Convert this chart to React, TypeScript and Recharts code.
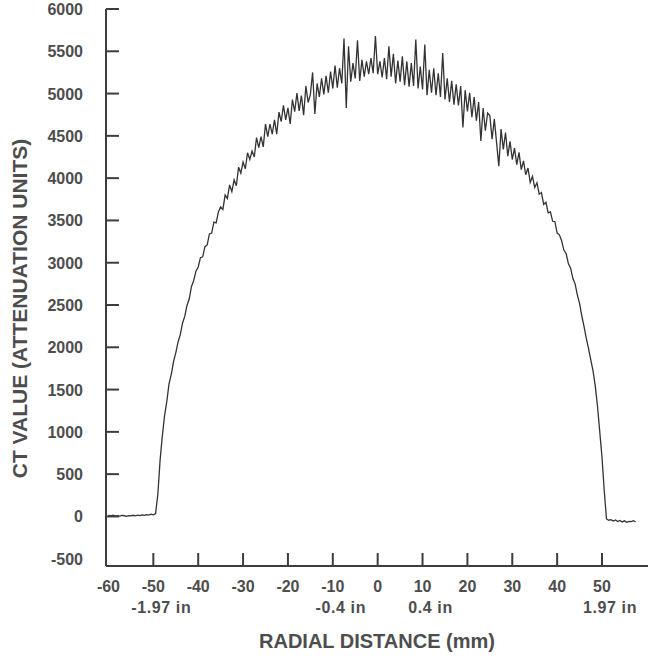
import { LineChart, Line, XAxis, YAxis, Label } from 'recharts';

// CT profile across the phantom: [radial distance mm, CT value]
const leftBaseline: [number, number][] = [
  [-60, 12], [-59.5, 8], [-59, 14], [-58.5, 6], [-58, 10], [-57.5, 4], [-57, 12], [-56.5, 8],
  [-56, 2], [-55.5, 10], [-55, 6], [-54.5, 14], [-54, 8], [-53.5, 16], [-53, 10], [-52.5, 18],
  [-52, 12], [-51.5, 22], [-51, 16], [-50.5, 28], [-50, 20], [-49.5, 34],
];

const leftRise: [number, number][] = [
  [-49, 260], [-48.5, 660], [-48, 950], [-47.5, 1190], [-47, 1360], [-46.5, 1570], [-46, 1680],
  [-45.5, 1830], [-45, 1935], [-44.5, 2060], [-44, 2150], [-43.5, 2285], [-43, 2365], [-42.5, 2495],
  [-42, 2570], [-41.5, 2720], [-41, 2790], [-40.5, 2900], [-40, 2950], [-39.5, 3060], [-39, 3070],
  [-38.5, 3190], [-38, 3210], [-37.5, 3340], [-37, 3350], [-36.5, 3480], [-36, 3470], [-35.5, 3600],
];

const leftShoulder: [number, number][] = [
  [-35, 3660], [-34.5, 3630], [-34, 3800], [-33.5, 3760], [-33, 3920], [-32.5, 3840], [-32, 3980],
  [-31.5, 3910], [-31, 4130], [-30.5, 4060], [-30, 4190], [-29.5, 4110], [-29, 4300], [-28.5, 4220],
  [-28, 4320], [-27.5, 4250], [-27, 4480], [-26.5, 4360], [-26, 4490], [-25.5, 4370], [-25, 4640],
  [-24.5, 4490], [-24, 4640], [-23.5, 4520], [-23, 4690], [-22.5, 4520], [-22, 4780], [-21.5, 4670],
  [-21, 4860], [-20.5, 4690], [-20, 4830], [-19.5, 4640], [-19, 4930], [-18.5, 4785], [-18, 5005],
  [-17.5, 4795], [-17, 4975], [-16.5, 4745], [-16, 5090], [-15.5, 4895],
];

const crown: [number, number][] = [
  [-15, 4990], [-14.5, 5250], [-14, 4760], [-13.5, 5120], [-13, 4960], [-12.5, 5180], [-12, 4990],
  [-11.5, 5210], [-11, 5010], [-10.5, 5260], [-10, 5060], [-9.5, 5330], [-9, 5070], [-8.5, 5300],
  [-8, 5120], [-7.5, 5650], [-7, 4830], [-6.5, 5560], [-6, 5140], [-5.5, 5360], [-5, 5180],
  [-4.5, 5630], [-4, 5150], [-3.5, 5400], [-3, 5200], [-2.5, 5380], [-2, 5230], [-1.5, 5420],
  [-1, 5240], [-0.5, 5680], [0, 5230], [0.5, 5380], [1, 5190], [1.5, 5420], [2, 5170], [2.5, 5560],
  [3, 5200], [3.5, 5470], [4, 5120], [4.5, 5390], [5, 5140], [5.5, 5440], [6, 5100], [6.5, 5380],
  [7, 5080], [7.5, 5360], [8, 5090], [8.5, 5640], [9, 5060], [9.5, 5320], [10, 5050], [10.5, 5580],
  [11, 4980], [11.5, 5280], [12, 5010], [12.5, 5300], [13, 4980], [13.5, 5240], [14, 4960],
  [14.5, 5480], [15, 4930], [15.5, 5180], [16, 4900], [16.5, 5150], [17, 4870], [17.5, 5110],
  [18, 4860], [18.5, 5090], [19, 4600], [19.5, 5040], [20, 4790], [20.5, 5010], [21, 4720],
  [21.5, 4960], [22, 4680], [22.5, 4900], [23, 4440], [23.5, 4830], [24, 4560], [24.5, 4770],
];

const rightShoulder: [number, number][] = [
  [25, 4740], [25.5, 4460], [26, 4700], [26.5, 4420], [27, 4140], [27.5, 4580], [28, 4340],
  [28.5, 4540], [29, 4260], [29.5, 4435], [30, 4220], [30.5, 4355], [31, 4160], [31.5, 4305],
  [32, 4100], [32.5, 4205], [33, 4040], [33.5, 4120], [34, 3950], [34.5, 4020], [35, 3890],
  [35.5, 3945], [36, 3810], [36.5, 3830], [37, 3690], [37.5, 3715], [38, 3590], [38.5, 3600],
  [39, 3490], [39.5, 3485], [40, 3350], [40.5, 3330],
];

const rightFall: [number, number][] = [
  [41, 3260], [41.5, 3150], [42, 3110], [42.5, 2990], [43, 2935], [43.5, 2815], [44, 2750],
  [44.5, 2620], [45, 2520], [45.5, 2370], [46, 2245], [46.5, 2105], [47, 1985], [47.5, 1850],
  [48, 1720], [48.5, 1540], [49, 1300], [49.5, 1000], [50, 700], [50.5, 300], [51, -30],
];

const rightBaseline: [number, number][] = [
  [51.5, -45], [52, -38], [52.5, -55], [53, -42], [53.5, -60], [54, -48], [54.5, -65],
  [55, -52], [55.5, -70], [56, -58], [56.5, -62], [57, -50], [57.5, -66],
];

const xTicks = [-60, -50, -40, -30, -20, -10, 0, 10, 20, 30, 40, 50];
const yTicks = [-500, 0, 500, 1000, 1500, 2000, 2500, 3000, 3500, 4000, 4500, 5000, 5500, 6000];
const inchLabels: Record<number, string> = {
  [-50]: '-1.97 in',
  [-10]: '-0.4 in',
  10: '0.4 in',
  50: '1.97 in',
};

const profile = [
  ...leftBaseline, ...leftRise, ...leftShoulder, ...crown,
  ...rightShoulder, ...rightFall, ...rightBaseline,
].map(([mm, ct]) => ({ mm, ct }));

const INK = '#3d3d3d';
const TEXT = '#4d4d4d';
const FONT = '"Liberation Sans", Arial, Helvetica, sans-serif';

function XTick({ x, y, payload }: any) {
  const v = payload.value;
  const axisY = y - 8;
  const inch = inchLabels[v];
  return (
    <g>
      {v > -60 && <line x1={x} x2={x} y1={axisY} y2={axisY - 13} stroke={INK} strokeWidth={2} />}
      <text x={x} y={axisY + 26} textAnchor="middle" fontSize={16} fontWeight="bold" fill={TEXT} fontFamily={FONT}>
        {v}
      </text>
      {inch && (
        <text x={x + 8} y={axisY + 47} textAnchor="middle" fontSize={16} fontWeight="bold" fill={TEXT} fontFamily={FONT} letterSpacing={0.6}>
          {inch}
        </text>
      )}
    </g>
  );
}

function YTick({ x, y, payload }: any) {
  const v = payload.value;
  const axisX = x + 8;
  return (
    <g>
      {v > -500 && <line x1={axisX} x2={axisX + 13} y1={y} y2={y} stroke={INK} strokeWidth={2} />}
      <text x={axisX - 23} y={y} dy={6} textAnchor="end" fontSize={16} fontWeight="bold" fill={TEXT} fontFamily={FONT}>
        {v}
      </text>
    </g>
  );
}

function XTitle({ viewBox }: any) {
  const vb = viewBox ?? { x: 106, y: 566, width: 542, height: 90 };
  return (
    <text x={vb.x + vb.width / 2} y={vb.y + 82} textAnchor="middle" fontSize={20} fontWeight="bold" fill={TEXT} fontFamily={FONT}>
      RADIAL DISTANCE (mm)
    </text>
  );
}

function YTitle({ viewBox }: any) {
  const vb = viewBox ?? { x: 0, y: 9, width: 106, height: 557 };
  const cx = vb.x + 19;
  const cy = vb.y + vb.height / 2 + 21;
  return (
    <text
      x={cx}
      y={cy}
      transform={`rotate(-90 ${cx} ${cy})`}
      textAnchor="middle"
      dominantBaseline="central"
      fontSize={21}
      fontWeight="bold"
      fill={TEXT}
      fontFamily={FONT}
    >
      CT VALUE (ATTENUATION UNITS)
    </text>
  );
}

export default function App() {
  return (
    <div style={{ position: 'absolute', left: 0, top: 0, background: '#fff' }}>
      <LineChart width={648} height={656} data={profile} margin={{ top: 9, right: 0, bottom: 0, left: 0 }}>
        <XAxis
          dataKey="mm"
          type="number"
          domain={[-60.55, 60.25]}
          ticks={xTicks}
          allowDataOverflow
          height={90}
          tickSize={6}
          tickMargin={2}
          tickLine={false}
          axisLine={{ stroke: INK, strokeWidth: 2 }}
          tick={XTick}
          interval={0}
        >
          <Label content={XTitle} />
        </XAxis>
        <YAxis
          type="number"
          domain={[-586, 6000]}
          ticks={yTicks}
          allowDataOverflow
          width={106}
          tickSize={6}
          tickMargin={2}
          tickLine={false}
          axisLine={{ stroke: INK, strokeWidth: 2 }}
          tick={YTick}
          interval={0}
        >
          <Label content={YTitle} />
        </YAxis>
        <Line
          type="linear"
          dataKey="ct"
          stroke="#333333"
          strokeWidth={1.3}
          dot={false}
          isAnimationActive={false}
        />
      </LineChart>
    </div>
  );
}
